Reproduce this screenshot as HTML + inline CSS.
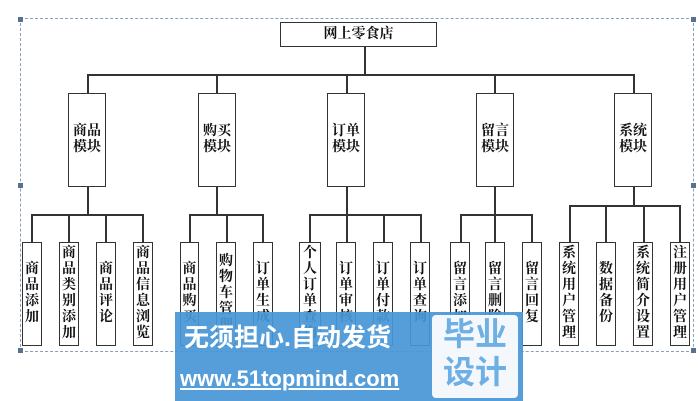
<!DOCTYPE html>
<html><head><meta charset="utf-8"><style>
body{margin:0;width:698px;height:401px;background:#fff;position:relative;overflow:hidden;font-family:"Liberation Serif","Noto Serif CJK SC",serif;}
.b{position:absolute;border:1.5px solid #333;box-sizing:border-box;background:#fff;display:flex;flex-direction:column;align-items:center;justify-content:center;font-weight:bold;font-size:14px;line-height:16px;color:#111;}
.l{position:absolute;background:#333;}
.wm{position:absolute;font-family:"Liberation Sans","Noto Sans CJK SC",sans-serif;}
</style></head><body>
<div style="position:absolute;left:20px;top:18px;width:674px;height:334px;border:1px dashed #8aa0b8;box-sizing:border-box"></div>
<div style="position:absolute;left:18px;top:17px;width:5px;height:5px;background:#5a7090"></div>
<div style="position:absolute;left:18px;top:183px;width:5px;height:5px;background:#5a7090"></div>
<div style="position:absolute;left:18px;top:348px;width:5px;height:5px;background:#5a7090"></div>
<div style="position:absolute;left:691px;top:17px;width:5px;height:5px;background:#5a7090"></div>
<div style="position:absolute;left:691px;top:183px;width:5px;height:5px;background:#5a7090"></div>
<div style="position:absolute;left:691px;top:348px;width:5px;height:5px;background:#5a7090"></div>

<div class="b" style="left:280px;top:22px;width:157px;height:25px;">网上零食店</div>
<div class="l" style="left:364px;top:46px;width:1.5px;height:29px"></div>
<div class="l" style="left:87px;top:74px;width:547px;height:1.5px"></div>

<div class="l" style="left:87px;top:74px;width:1.5px;height:20px"></div>
<div class="l" style="left:216px;top:74px;width:1.5px;height:20px"></div>
<div class="l" style="left:346px;top:74px;width:1.5px;height:20px"></div>
<div class="l" style="left:494px;top:74px;width:1.5px;height:20px"></div>
<div class="l" style="left:633px;top:74px;width:1.5px;height:20px"></div>

<div class="b" style="left:68px;top:93px;width:38px;height:94px">商品<br>模块</div>
<div class="b" style="left:198px;top:93px;width:38px;height:94px">购买<br>模块</div>
<div class="b" style="left:327px;top:93px;width:38px;height:94px">订单<br>模块</div>
<div class="b" style="left:476px;top:93px;width:38px;height:94px">留言<br>模块</div>
<div class="b" style="left:614px;top:93px;width:38px;height:94px">系统<br>模块</div>

<div class="l" style="left:87px;top:186px;width:1.5px;height:29px"></div>
<div class="l" style="left:216px;top:186px;width:1.5px;height:29px"></div>
<div class="l" style="left:346px;top:186px;width:1.5px;height:29px"></div>
<div class="l" style="left:494px;top:186px;width:1.5px;height:29px"></div>
<div class="l" style="left:633px;top:186px;width:1.5px;height:20px"></div>

<div class="l" style="left:31px;top:214px;width:112px;height:1.5px"></div>
<div class="l" style="left:189px;top:214px;width:74px;height:1.5px"></div>
<div class="l" style="left:309px;top:214px;width:112px;height:1.5px"></div>
<div class="l" style="left:460px;top:214px;width:72px;height:1.5px"></div>
<div class="l" style="left:569px;top:205px;width:111px;height:1.5px"></div>

<div class="l" style="left:31px;top:214px;width:1.5px;height:28px"></div>
<div class="l" style="left:68px;top:214px;width:1.5px;height:28px"></div>
<div class="l" style="left:105px;top:214px;width:1.5px;height:28px"></div>
<div class="l" style="left:142px;top:214px;width:1.5px;height:28px"></div>
<div class="l" style="left:189px;top:214px;width:1.5px;height:28px"></div>
<div class="l" style="left:226px;top:214px;width:1.5px;height:28px"></div>
<div class="l" style="left:262px;top:214px;width:1.5px;height:28px"></div>
<div class="l" style="left:309px;top:214px;width:1.5px;height:28px"></div>
<div class="l" style="left:346px;top:214px;width:1.5px;height:28px"></div>
<div class="l" style="left:383px;top:214px;width:1.5px;height:28px"></div>
<div class="l" style="left:420px;top:214px;width:1.5px;height:28px"></div>
<div class="l" style="left:460px;top:214px;width:1.5px;height:28px"></div>
<div class="l" style="left:494px;top:214px;width:1.5px;height:28px"></div>
<div class="l" style="left:531px;top:214px;width:1.5px;height:28px"></div>
<div class="l" style="left:569px;top:205px;width:1.5px;height:37px"></div>
<div class="l" style="left:605px;top:205px;width:1.5px;height:37px"></div>
<div class="l" style="left:643px;top:205px;width:1.5px;height:37px"></div>
<div class="l" style="left:679px;top:205px;width:1.5px;height:37px"></div>

<div class="b" style="left:22px;top:242px;width:20px;height:104px">商<br>品<br>添<br>加</div>
<div class="b" style="left:59px;top:242px;width:20px;height:104px">商<br>品<br>类<br>别<br>添<br>加</div>
<div class="b" style="left:96px;top:242px;width:20px;height:104px">商<br>品<br>评<br>论</div>
<div class="b" style="left:133px;top:242px;width:20px;height:104px">商<br>品<br>信<br>息<br>浏<br>览</div>
<div class="b" style="left:180px;top:242px;width:19px;height:104px">商<br>品<br>购<br>买</div>
<div class="b" style="left:216px;top:242px;width:20px;height:104px">购<br>物<br>车<br>管<br>理</div>
<div class="b" style="left:253px;top:242px;width:20px;height:104px">订<br>单<br>生<br>成</div>
<div class="b" style="left:299px;top:242px;width:22px;height:104px">个<br>人<br>订<br>单<br>查<br>询</div>
<div class="b" style="left:336px;top:242px;width:20px;height:104px">订<br>单<br>审<br>核</div>
<div class="b" style="left:373px;top:242px;width:20px;height:104px">订<br>单<br>付<br>款</div>
<div class="b" style="left:410px;top:242px;width:20px;height:104px">订<br>单<br>查<br>询</div>
<div class="b" style="left:450px;top:242px;width:20px;height:104px">留<br>言<br>添<br>加</div>
<div class="b" style="left:485px;top:242px;width:20px;height:104px">留<br>言<br>删<br>除</div>
<div class="b" style="left:522px;top:242px;width:20px;height:104px">留<br>言<br>回<br>复</div>
<div class="b" style="left:559px;top:242px;width:20px;height:104px">系<br>统<br>用<br>户<br>管<br>理</div>
<div class="b" style="left:596px;top:242px;width:20px;height:104px">数<br>据<br>备<br>份</div>
<div class="b" style="left:633px;top:242px;width:20px;height:104px">系<br>统<br>简<br>介<br>设<br>置</div>
<div class="b" style="left:670px;top:242px;width:20px;height:104px">注<br>册<br>用<br>户<br>管<br>理</div>

<div class="wm" style="left:175px;top:312px;width:348px;height:89px;background:rgba(70,150,215,0.92)"></div>
<div class="wm" style="left:184px;top:318px;color:#fff;font-size:25px;font-weight:bold;letter-spacing:0px;white-space:nowrap">无须担心.自动发货</div>
<div class="wm" style="left:180px;top:366px;color:#fff;font-size:22px;font-weight:bold;white-space:nowrap;text-decoration:underline">www.51topmind.com</div>
<div class="wm" style="left:432px;top:315px;width:86px;height:83px;background:#f4f8fc;border-radius:4px;color:#6fb0e4;font-size:32px;line-height:38px;text-align:center;font-weight:bold">毕业<br>设计</div>
</body></html>
